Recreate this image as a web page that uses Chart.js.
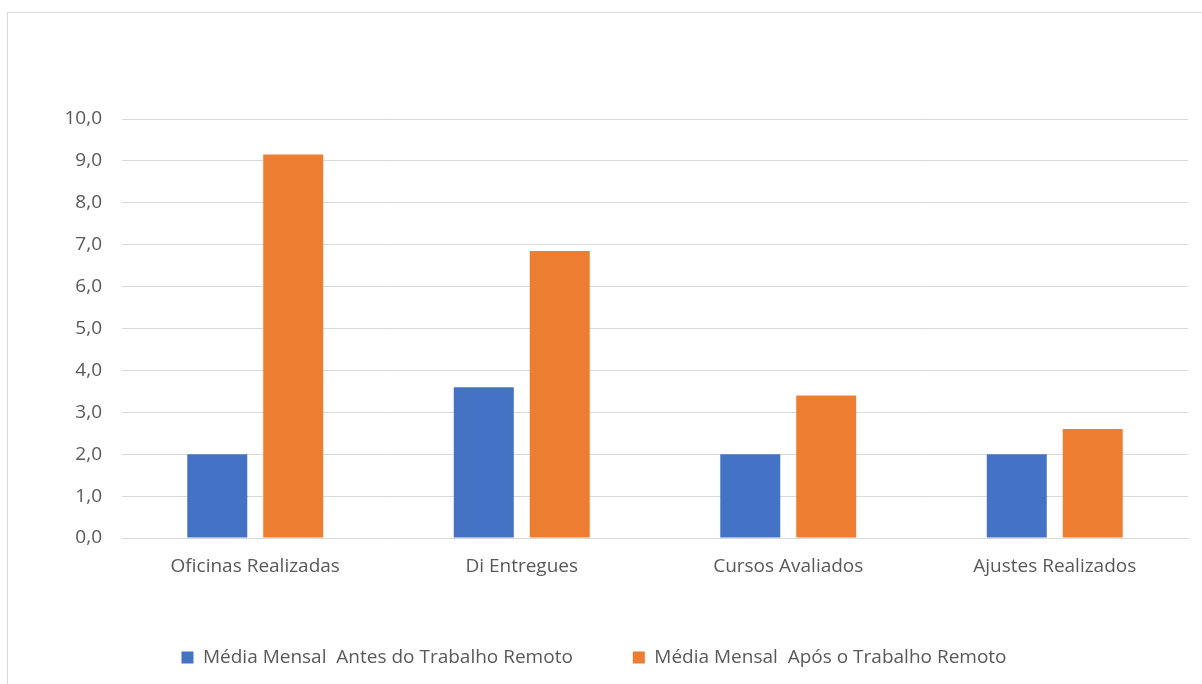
<!DOCTYPE html>
<html>
<head>
<meta charset="utf-8">
<script src="https://cdn.jsdelivr.net/npm/chart.js@4"></script>
<style>
  html, body { margin: 0; padding: 0; background: #fff; overflow: hidden; }
  #frame { position: absolute; left: 7px; top: 12px; width: 1400px; height: 900px; border: 1px solid #d9d9d9; }
  #wrap { position: absolute; left: 0; top: 0; width: 1202px; height: 684px; }
</style>
</head>
<body>
<div id="frame"></div>
<div id="wrap"><canvas id="grafico"></canvas></div>
<script>
// dados
const categorias = ['Oficinas Realizadas', 'Di Entregues', 'Cursos Avaliados', 'Ajustes Realizados'];
const antes = [2.0, 3.6, 2.0, 2.0];
const apos = [9.15, 6.85, 3.4, 2.6];
const nomesSeries = ['Média Mensal  Antes do Trabalho Remoto', 'Média Mensal  Após o Trabalho Remoto'];

const fonte = "'Open Sans', 'Noto Sans', sans-serif";
Chart.defaults.font.family = fonte;
Chart.defaults.color = '#595959';

const ctx = document.getElementById('grafico').getContext('2d');
new Chart(ctx, {
    type: 'bar',
    data: {
        labels: categorias,
        datasets: [
            { label: nomesSeries[0], data: antes, backgroundColor: '#4472C4' },
            { label: nomesSeries[1], data: apos, backgroundColor: '#ED7D31' }
        ]
    },
    options: {
        responsive: true,
        maintainAspectRatio: false,
        animation: false,
        datasets: { bar: { categoryPercentage: 0.57, barPercentage: 0.79 } },
        layout: { padding: { left: 0, right: 14, top: 119, bottom: 7 } },
        scales: {
            x: {
                grid: { display: false, drawTicks: false },
                border: { color: '#d9d9d9', width: 1 },
                ticks: { padding: 17, font: { size: 19 } },
                afterFit: (s) => { s.height = 50; }
            },
            y: {
                min: 0, max: 10,
                ticks: {
                    stepSize: 1, padding: 20, font: { size: 19 },
                    callback: (v) => v.toFixed(1).replace('.', ',')
                },
                grid: { color: '#d9d9d9', drawTicks: false },
                border: { display: false },
                afterFit: (s) => { s.width = 122; }
            }
        },
        plugins: {
            legend: {
                position: 'bottom',
                labels: { boxWidth: 12, boxHeight: 12, padding: 60, font: { size: 19 } }
            },
            tooltip: { enabled: false }
        }
    }
});
</script>
</body>
</html>
